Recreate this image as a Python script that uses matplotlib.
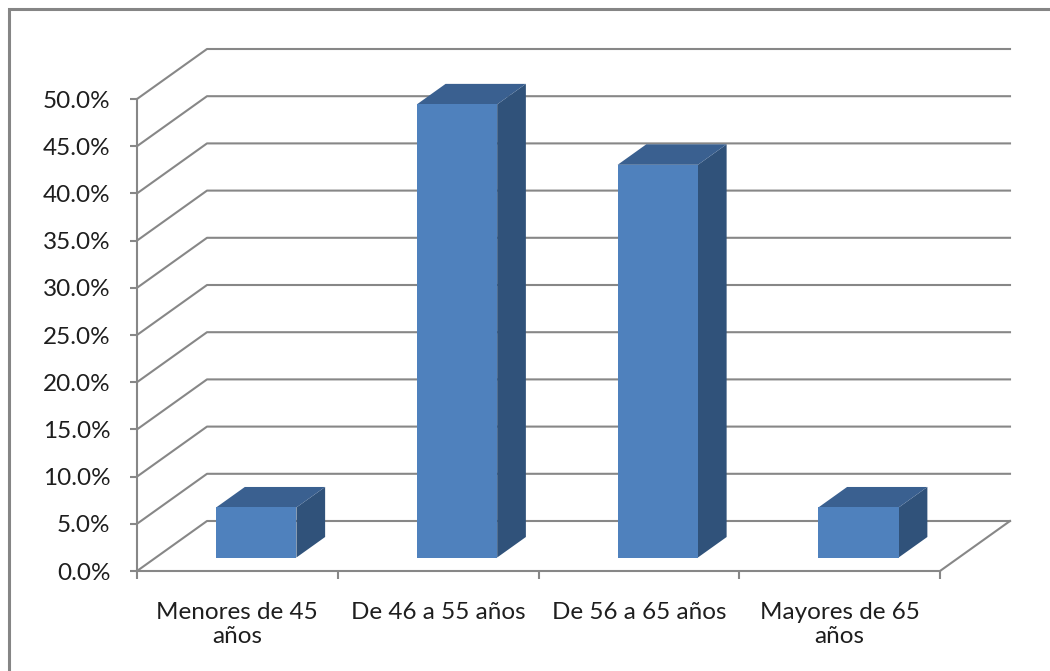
import matplotlib.pyplot as plt
from matplotlib.patches import Polygon, Rectangle
from matplotlib.ticker import FuncFormatter

categorias = ["Menores de 45\naños", "De 46 a 55 años", "De 56 a 65 años", "Mayores de 65\naños"]
porcentajes = [5.3, 48.0, 41.6, 5.3]
marcas_y = [0, 5, 10, 15, 20, 25, 30, 35, 40, 45, 50]

plt.rcParams['font.family'] = ['Lato', 'DejaVu Sans']

fig = plt.figure(figsize=(10.5, 6.71), dpi=100)
W, H = 1050, 671

# marco del grafico
fig.patches.append(Rectangle((9 / W, -0.1), 1.2, (H - 9) / H + 0.1, transform=fig.transFigure,
                             fill=False, edgecolor='#858585', linewidth=2.2))

# plano frontal: eje y en x=137 px, 0% en y=571 px, 50% en y=99 px
ax = fig.add_axes([137 / W, (H - 571) / H, 803 / W, (571 - 99) / H])
ax.set_xlim(0, 4)
ax.set_ylim(0, 50)

px_x = 803 / 4
px_y = (571 - 99) / 50
DX = 70 / px_x      # profundidad en unidades de categoria
DY = 50 / px_y      # profundidad en unidades de %

gris = '#878787'

# lineas de la pared del fondo y diagonales del lateral
for v in marcas_y:
    ax.plot([0, DX, 4 + DX], [v, v + DY, v + DY], color=gris, lw=1.5, clip_on=False, zorder=1)
# suelo: diagonal derecha
ax.plot([4, 4 + DX], [0, DY], color=gris, lw=1.5, clip_on=False, zorder=1)

# barras 3D
frente = '#4F81BD'
arriba = '#3A6090'
lado = '#30527A'
d0, d1 = 0.27, 0.68
for i, v in enumerate(porcentajes):
    x0 = i + 0.3
    x1 = i + 0.7
    cara = [(x0 + d0 * DX, d0 * DY), (x1 + d0 * DX, d0 * DY),
            (x1 + d0 * DX, v + d0 * DY), (x0 + d0 * DX, v + d0 * DY)]
    tapa = [(x0 + d0 * DX, v + d0 * DY), (x1 + d0 * DX, v + d0 * DY),
            (x1 + d1 * DX, v + d1 * DY), (x0 + d1 * DX, v + d1 * DY)]
    costado = [(x1 + d0 * DX, d0 * DY), (x1 + d1 * DX, d1 * DY),
               (x1 + d1 * DX, v + d1 * DY), (x1 + d0 * DX, v + d0 * DY)]
    ax.add_patch(Polygon(costado, closed=True, facecolor=lado, edgecolor='none', clip_on=False, zorder=3))
    ax.add_patch(Polygon(tapa, closed=True, facecolor=arriba, edgecolor='none', clip_on=False, zorder=3))
    ax.add_patch(Polygon(cara, closed=True, facecolor=frente, edgecolor='none', clip_on=False, zorder=4))

# ejes
ax.set_facecolor('none')
for s in ['top', 'right']:
    ax.spines[s].set_visible(False)
for s in ['left', 'bottom']:
    ax.spines[s].set_color(gris)
    ax.spines[s].set_linewidth(1.5)

ax.set_yticks(marcas_y)
ax.yaxis.set_major_formatter(FuncFormatter(lambda v, p: f"{v:.1f}%"))
ax.tick_params(axis='y', direction='out', length=5, width=1.5, color=gris,
               labelsize=17.5, labelcolor='#1e1e1e', pad=14)

ax.set_xticks([0, 1, 2, 3, 4])
ax.set_xticklabels([])
ax.set_xticks([0.5, 1.5, 2.5, 3.5], minor=True)
ax.set_xticklabels(categorias, minor=True, linespacing=1.2)
ax.tick_params(axis='x', which='major', direction='out', length=6, width=1.5, color=gris)
ax.tick_params(axis='x', which='minor', length=0, labelsize=17.5, labelcolor='#1e1e1e', pad=22)

fig.savefig('out.png', dpi=100)
